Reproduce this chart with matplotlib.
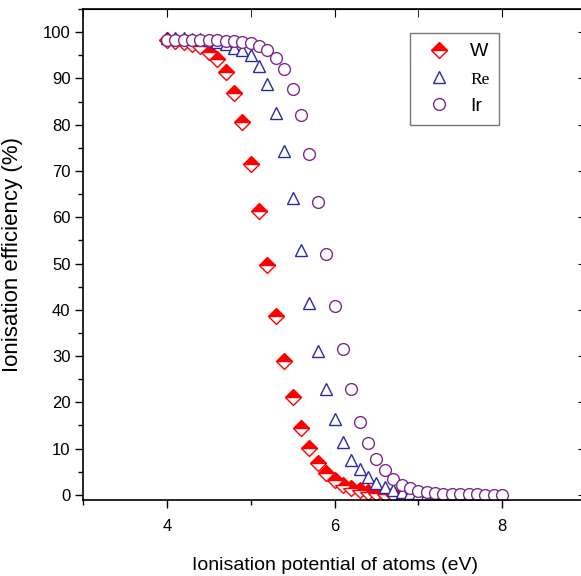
import numpy as np
import matplotlib.pyplot as plt
from matplotlib.ticker import MultipleLocator

plt.rcParams['font.family'] = ['Liberation Sans', 'DejaVu Sans']

# ionisation potential (eV), 0.1 eV steps from 4.0 to 8.0
ip = np.round(np.arange(4.0, 8.0001, 0.1), 1)

w_eff = [98.3, 98.1, 97.9, 97.5, 96.9, 95.8, 94.3, 91.4, 86.8, 80.5,
         71.6, 61.4, 49.6, 38.7, 29.0, 21.2, 14.5, 10.1, 6.8, 4.7,
         3.3, 2.2, 1.4, 1.0, 0.7, 0.5, 0.3, 0.2, 0.1]
re_eff = [98.7, 98.7, 98.7, 98.6, 98.5, 98.3, 97.9, 97.4, 96.6, 96.1,
          95.0, 92.7, 88.8, 82.6, 74.3, 64.1, 53.0, 41.5, 31.0, 22.9,
          16.4, 11.4, 7.6, 5.5, 3.8, 2.5, 1.7, 1.0, 0.6, 0.4,
          0.3, 0.2, 0.1, 0.1, 0.1, 0.0, 0.0, 0.0, 0.0, 0.0, 0.0]
ir_eff = [98.3, 98.3, 98.3, 98.3, 98.3, 98.2, 98.2, 98.1, 98.0, 97.9,
          97.6, 97.0, 96.1, 94.5, 92.0, 87.8, 82.1, 73.7, 63.3, 52.1,
          40.8, 31.5, 22.8, 15.8, 11.2, 7.8, 5.3, 3.5, 2.2, 1.4,
          0.9, 0.6, 0.4, 0.3, 0.2, 0.1, 0.1, 0.1, 0.0, 0.0, 0.0]

red = '#ff0000'
blue = '#2a2aa6'
purple = '#7a2a88'

fig = plt.figure(figsize=(5.81, 5.76), dpi=100)
ax = fig.add_axes([83/581, 76/576, 503/581, 491/576])

ax.plot(ip[:len(w_eff)], w_eff, ls='none', marker='D', ms=8.5, fillstyle='top',
        markerfacecolor=red, markerfacecoloralt='white', markeredgecolor=red,
        markeredgewidth=1, label='W')
ax.plot(ip, re_eff, ls='none', marker='^', ms=9,
        markerfacecolor='white', markeredgecolor=blue, markeredgewidth=1, label='Re')
ax.plot(ip, ir_eff, ls='none', marker='o', ms=8.5,
        markerfacecolor='white', markeredgecolor=purple, markeredgewidth=1, label='Ir')

ax.set_xlim(3, 9)
ax.set_ylim(-1.1, 105)
ax.xaxis.set_major_locator(MultipleLocator(2))
ax.xaxis.set_minor_locator(MultipleLocator(1))
ax.yaxis.set_major_locator(MultipleLocator(10))
ax.yaxis.set_minor_locator(MultipleLocator(5))
ax.tick_params(which='major', direction='out', length=6, width=1, labelsize=12)
ax.tick_params(which='minor', direction='out', length=3.5, width=1)
ax.tick_params(axis='x', pad=8)
ax.tick_params(axis='y', pad=3)

# mirrored ticks pointing inward on top and right
top = ax.secondary_xaxis('top')
top.set_xticks([4, 6, 8])
top.xaxis.set_minor_locator(MultipleLocator(1))
top.tick_params(which='both', direction='in', length=6, labeltop=False)
right = ax.secondary_yaxis('right')
right.set_yticks(np.arange(0, 101, 10))
right.tick_params(which='both', direction='in', length=6, labelright=False)

for s in ax.spines.values():
    s.set_linewidth(1.2)

ax.set_xlabel('Ionisation potential of atoms (eV)', fontsize=14, labelpad=16)
ax.set_ylabel('Ionisation efficiency (%)', fontsize=16, labelpad=14)

leg = ax.legend(loc='upper left', bbox_to_anchor=(410/581, 1 - 33/576),
                bbox_transform=fig.transFigure, fancybox=False, framealpha=1,
                edgecolor='#777777', handlelength=2.0, handletextpad=0.6,
                labelspacing=0.5, borderpad=0.5, borderaxespad=0,
                prop={'size': 14})
leg.get_texts()[1].set_fontfamily('Liberation Serif')
leg.get_texts()[1].set_fontsize(12.5)

fig.savefig('out.png', dpi=100)
